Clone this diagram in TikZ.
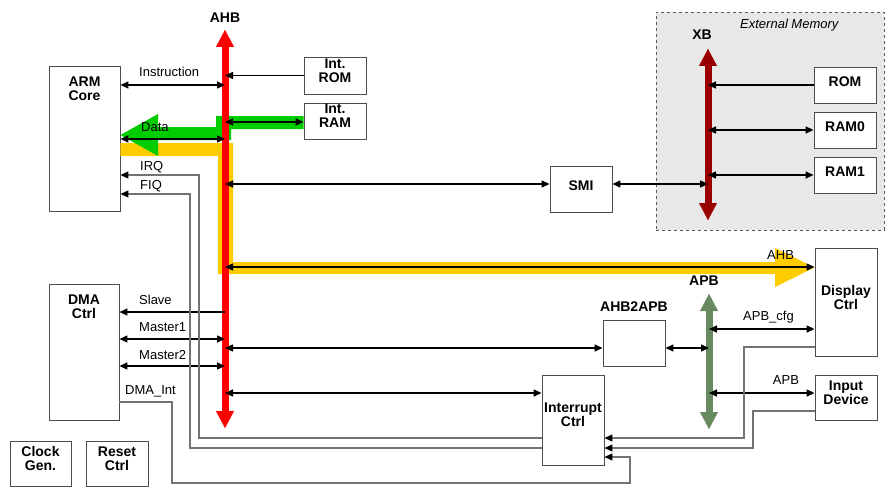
\documentclass[tikz,border=0pt]{standalone}
\usepackage{fontspec}
\setmainfont{Liberation Sans}
\usepackage{tikz}
\usetikzlibrary{arrows.meta,positioning,calc}
\definecolor{ahbred}{RGB}{255,0,0}
\definecolor{xbred}{RGB}{153,0,0}
\definecolor{apbgreen}{RGB}{104,138,96}
\definecolor{datagreen}{RGB}{0,204,0}
\definecolor{dispyellow}{RGB}{255,204,0}
\definecolor{extgray}{RGB}{232,232,232}

\begin{document}
\begin{tikzpicture}[x=1pt, y=-1pt,
    box/.style={draw=black!70, line width=0.9pt, fill=white, inner sep=0pt},
    btxt/.style={font=\bfseries\fontsize{14}{14}\selectfont, inner sep=0pt},
    lbl/.style={font=\fontsize{13}{15}\selectfont, inner sep=0pt},
    tag/.style={label={[btxt, align=center, yshift=5pt]center:{#1}}},
    tagone/.style={label={[btxt, yshift=3pt]center:{#1}}},
    toptag/.style={label={[btxt, align=center, below=11.5pt]north:{#1}}},
    bus/.style={line width=7pt, draw=#1, {Triangle[length=17pt,width=18pt,line width=0.01pt]}-{Triangle[length=17pt,width=18pt,line width=0.01pt]}},
    link/.style={line width=1.4pt, draw=black, >={Triangle[length=8pt,width=7pt]}},
    wire/.style={line width=1.1pt, draw=black!55, -{Triangle[length=8pt,width=7pt,color=black]}},
]
    \useasboundingbox (0,0) rectangle (886,487);

    % external memory region
    \node[draw=black!65, dashed, line width=0.8pt, fill=extgray, minimum width=228pt, minimum height=218pt] (ext) at (770,121) {};
    \node[lbl, font=\itshape\fontsize{13}{15}\selectfont, anchor=base west] (extL) at (740,28.5) {External Memory};

    % blocks
    \node[box, minimum width=71pt, minimum height=145pt, toptag={ARM\\Core}] (arm) at (84.5,138.5) {};
    \node[box, minimum width=70pt, minimum height=136pt, toptag={DMA\\Ctrl}] (dma) at (84,352) {};
    \node[box, minimum width=62pt, minimum height=37pt, tag={Int.\\ROM}] (irom) at (335,75.5) {};
    \node[box, minimum width=62pt, minimum height=36pt, tag={Int.\\RAM}] (iram) at (335,121) {};
    \node[box, minimum width=62pt, minimum height=46pt, tagone=SMI] (smi) at (581,189) {};
    \node[box, minimum width=62pt, minimum height=36pt, tagone=ROM] (rom) at (845,85) {};
    \node[box, minimum width=62pt, minimum height=36pt, tagone=RAM0] (ram0) at (845,130) {};
    \node[box, minimum width=62pt, minimum height=36pt, tagone=RAM1] (ram1) at (845,175) {};
    \node[box, minimum width=62pt, minimum height=108pt, tag={Display\\Ctrl}] (disp) at (846,302) {};
    \node[box, minimum width=62pt, minimum height=45pt, tag={Input\\Device}] (inp) at (846,397.5) {};
    \node[box, minimum width=62pt, minimum height=46pt, label={[btxt, yshift=7.7pt]above:AHB2APB}] (bridge) at (634,343) {};
    \node[box, minimum width=62pt, minimum height=90pt, tag={Interrupt\\Ctrl}] (intc) at (573,420) {};
    \node[box, minimum width=61pt, minimum height=45pt, tag={Clock\\Gen.}] (clk) at (40.5,463.5) {};
    \node[box, minimum width=62pt, minimum height=45pt, tag={Reset\\Ctrl}] (rst) at (117,463.5) {};

    % wide flows
    \fill[dispyellow] (arm.east |- 0,143) -- (233,143) -- (233,262) -- (775,262) -- (775,248)
        -- (disp.west |- 0,267.5) -- (775,287) -- (775,274) -- (218,274) -- (218,156) -- (arm.east |- 0,156) -- cycle;
    \fill[datagreen] (iram.west |- 0,116) -- (216,116) -- (216,127) -- (158,127) -- (158,114)
        -- (arm.east |- 0,135) -- (158,156) -- (158,140) -- (231,140) -- (231,129) -- (iram.west |- 0,129) -- cycle;

    % buses
    \coordinate (ahbN) at (225,30);
    \coordinate (ahbS) at (225,428);
    \coordinate (xbN) at (708,49);
    \coordinate (xbS) at (708,220);
    \coordinate (apbN) at (709,294);
    \coordinate (apbS) at (709,429);
    \draw[bus=ahbred] (ahbS) -- (ahbN);
    \draw[bus=xbred] (xbS) -- (xbN);
    \draw[bus=apbgreen] (apbS) -- (apbN);
    \node[btxt, anchor=base] (ahbL) at (225,22.7) {AHB};
    \node[btxt, anchor=base] (xbL) at (702,40) {XB};
    \node[btxt, anchor=base] (apbL) at (704,285) {APB};

    % bus links
    \draw[link, <->] (arm.east |- 0,85) -- (ahbN |- 0,85);
    \draw[link, ->] (irom) -- (ahbN |- irom);
    \draw[link, <->] (ahbN |- 0,122) -- (iram.west |- 0,122);
    \draw[link, <->] (arm.east |- 0,139) -- (ahbN |- 0,139);
    \draw[link, <->] (ahbN |- 0,184) -- (smi.west |- 0,184);
    \draw[link, <->] (smi.east |- 0,184) -- (xbN |- 0,184);
    \draw[link, ->] (rom) -- (xbN |- rom);
    \draw[link, <->] (xbN |- ram0) -- (ram0);
    \draw[link, <->] (xbN |- ram1) -- (ram1);
    \draw[link, <->] (ahbN |- 0,267) -- (disp.west |- 0,267);
    \draw[link, ->] (ahbN |- 0,312) -- (dma.east |- 0,312);
    \draw[link, <->] (dma.east |- 0,339) -- (ahbN |- 0,339);
    \draw[link, <->] (dma.east |- 0,366) -- (ahbN |- 0,366);
    \draw[link, <->] (ahbN |- 0,348) -- (bridge.west |- 0,348);
    \draw[link, <->] (ahbN |- 0,393) -- (intc.west |- 0,393);
    \draw[link, <->] (bridge.east |- 0,348) -- (apbN |- 0,348);
    \draw[link, <->] (apbN |- 0,329) -- (disp.west |- 0,329);
    \draw[link, <->] (apbN |- 0,393) -- (inp.west |- 0,393);

    % interrupt wires
    \draw[wire] (intc.west |- 0,438) -| (199,175) -- (arm.east |- 0,175);
    \draw[wire] (intc.west |- 0,448) -| (190,194) -- (arm.east |- 0,194);
    \draw[wire] (dma.east |- 0,402) -| (172,483) -| (630,457) -- (intc.east |- 0,457);
    \draw[wire] (disp.west |- 0,347) -| (744,438) -- (intc.east |- 0,438);
    \draw[wire] (inp.west |- 0,411) -| (753,448) -- (intc.east |- 0,448);

    % signal names
    \node[lbl, anchor=base west] (lInstr) at (139,76.5) {Instruction};
    \node[lbl, anchor=base west] (lData) at (141,131.7) {Data};
    \node[lbl, anchor=base west] (lIrq) at (140,170.5) {IRQ};
    \node[lbl, anchor=base west] (lFiq) at (140,189) {FIQ};
    \node[lbl, anchor=base west] (lSlave) at (139,304) {Slave};
    \node[lbl, anchor=base west] (lMasterA) at (139,331.5) {Master1};
    \node[lbl, anchor=base west] (lMasterB) at (139,359) {Master2};
    \node[lbl, anchor=base west] (lDmaInt) at (125,394) {DMA\_Int};
    \node[lbl, anchor=base west] (lAhb) at (767,259) {AHB};
    \node[lbl, anchor=base west] (lCfg) at (743,320.7) {APB\_cfg};
    \node[lbl, anchor=base west] (lApb) at (772.7,384) {APB};
\end{tikzpicture}
\end{document}
